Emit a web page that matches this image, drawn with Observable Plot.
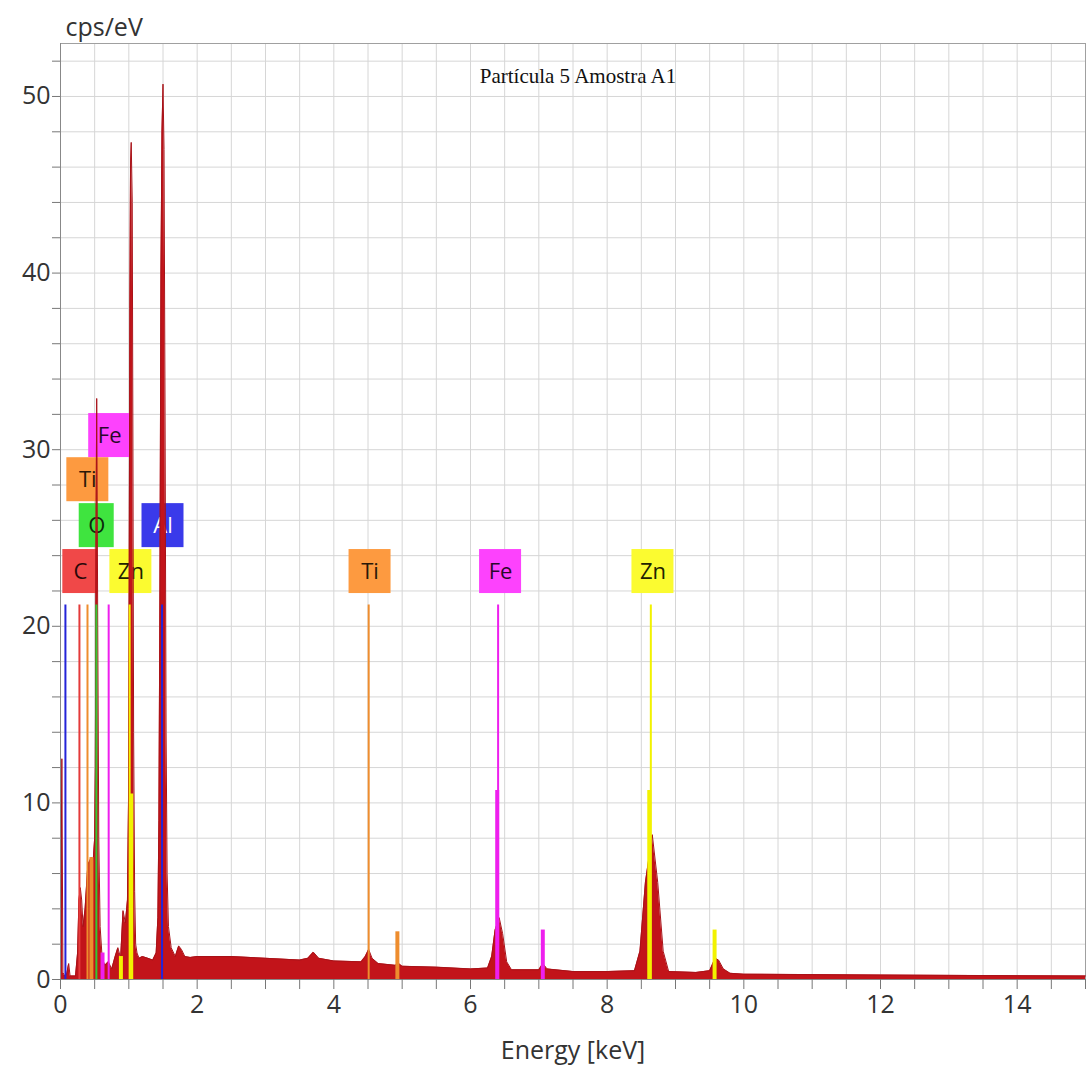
<!DOCTYPE html>
<html><head><meta charset="utf-8">
<script src="https://cdn.jsdelivr.net/npm/d3@7"></script>
<script src="https://cdn.jsdelivr.net/npm/@observablehq/plot@0.6"></script>
<style>body{margin:0;background:#fff}</style>
</head><body><div id="chart"></div>
<script>
// Spectrum (energy keV, cps/eV)
const specEnergy = [0, 0.02, 0.035, 0.06, 0.09, 0.12, 0.14, 0.22, 0.25, 0.27, 0.29, 0.31, 0.33, 0.36, 0.40, 0.45, 0.48, 0.50, 0.51, 0.52, 0.53, 0.545, 0.56, 0.58, 0.61, 0.65, 0.70, 0.75, 0.80, 0.84, 0.88, 0.915, 0.95, 0.98, 0.995, 1.005, 1.015, 1.025, 1.035, 1.05, 1.06, 1.07, 1.085, 1.10, 1.12, 1.15, 1.20, 1.28, 1.35, 1.40, 1.425, 1.44, 1.455, 1.47, 1.485, 1.50, 1.515, 1.53, 1.545, 1.56, 1.58, 1.62, 1.68, 1.73, 1.77, 1.82, 1.9, 2.0, 2.5, 3.0, 3.5, 3.62, 3.7, 3.78, 4.0, 4.4, 4.46, 4.51, 4.56, 4.65, 4.9, 4.95, 5.0, 5.5, 6.0, 6.25, 6.31, 6.36, 6.42, 6.47, 6.53, 6.6, 7.0, 7.06, 7.12, 7.5, 8.0, 8.4, 8.48, 8.56, 8.66, 8.74, 8.82, 8.9, 9.3, 9.5, 9.58, 9.63, 9.7, 9.8, 10, 12, 15];
const specCps    = [0, 12.5, 0.4, 0.2, 0.3, 0.9, 0.2, 0.2, 1.5, 4.5, 5.2, 4.5, 3.0, 4.0, 6.5, 6.9, 6.8, 8.0, 12, 25, 32.9, 20, 8, 3, 1.2, 0.8, 1.0, 0.6, 1.3, 1.8, 1.2, 3.9, 3.2, 4.5, 10, 22, 38, 46, 47.4, 44, 30, 14, 5, 2.0, 1.5, 1.2, 1.3, 1.2, 1.1, 1.5, 3.5, 9, 22, 40, 48, 50.7, 47, 32, 14, 6, 3, 1.8, 1.3, 1.9, 1.7, 1.3, 1.25, 1.3, 1.3, 1.2, 1.1, 1.2, 1.55, 1.2, 1.05, 1.0, 1.3, 1.7, 1.2, 0.9, 0.8, 0.9, 0.75, 0.7, 0.6, 0.65, 1.3, 2.8, 3.5, 2.6, 1.0, 0.55, 0.55, 0.9, 0.6, 0.45, 0.45, 0.5, 1.6, 5.5, 8.2, 5.5, 1.6, 0.45, 0.4, 0.5, 1.2, 1.1, 0.6, 0.35, 0.3, 0.25, 0.2];

// Element lines
const lineElement = ["Al", "C", "Ti", "Ti", "O", "Fe", "Fe", "Zn", "Zn", "Zn", "Al", "Ti", "Ti", "Fe", "Fe", "Fe", "Zn", "Zn", "Zn"];
const lineEnergy  = [0.072, 0.277, 0.395, 0.452, 0.525, 0.615, 0.705, 0.884, 1.012, 1.035, 1.486, 4.51, 4.93, 6.391, 6.404, 7.058, 8.616, 8.639, 9.572];
const lineHeight  = [21.2, 21.2, 21.2, 6.9, 21.2, 1.5, 21.2, 1.3, 21.2, 10.5, 21.2, 21.2, 2.7, 10.7, 21.2, 2.8, 10.7, 21.2, 2.8];
const lineMajor   = [true, true, true, false, true, false, true, false, true, false, true, true, false, false, true, false, false, true, false];

// Element labels
const labelElement = ["C", "Zn", "O", "Al", "Ti", "Fe", "Ti", "Fe", "Zn"];
const labelEnergy  = [0.29, 1.03, 0.53, 1.50, 0.40, 0.72, 4.53, 6.44, 8.67];
const labelLevel   = [23.1, 23.1, 25.7, 25.7, 28.3, 30.8, 23.1, 23.1, 23.1];

const xTickLabels = [0, 2, 4, 6, 8, 10, 12, 14];
const yTickLabels = [0, 10, 20, 30, 40, 50];

const boxColor  = {C: "#f04848", O: "#3fe43f", Al: "#3a3aea", Ti: "#fd9a40", Fe: "#fd42fd", Zn: "#fbfb30"};
const lineColor = {C: "#e43a3a", O: "#33c833", Al: "#2424d8", Ti: "#ee8d2e", Fe: "#ee1fee", Zn: "#f2f200"};
const textColor = {C: "#2a0808", O: "#0c2a0c", Al: "#ffffff", Ti: "#2a1808", Fe: "#2a082a", Zn: "#222200"};

const spectrum = specEnergy.map((e, i) => ({e, c: specCps[i]}));
const lines = lineEnergy.map((e, i) => ({e, h: lineHeight[i], el: lineElement[i], major: lineMajor[i]}));
const labels = labelEnergy.map((e, i) => ({e, y: labelLevel[i], el: labelElement[i]}));

const W = 1087, H = 1073, mL = 60, mR = 2, mT = 43, mB = 94;
const xMax = 15, yMax = 53;
const pxX = (W - mL - mR) / xMax, pxY = (H - mT - mB) / yMax;
const halfW = d => (d.el.length === 1 ? 17.5 : 21) / pxX;
const halfH = 22 / pxY;

const chart = Plot.plot({
  width: W, height: H,
  marginLeft: mL, marginRight: mR, marginTop: mT, marginBottom: mB,
  style: {fontFamily: "'Open Sans', sans-serif", fontSize: "25px", background: "#fff", color: "#333"},
  x: {domain: [0, xMax]},
  y: {domain: [0, yMax]},
  marks: [
    Plot.gridX(d3.range(0.5, xMax, 0.5), {stroke: "#d6d6d6", strokeOpacity: 1}),
    Plot.gridY(d3.range(2, yMax, 2), {stroke: "#d6d6d6", strokeOpacity: 1}),
    Plot.frame({stroke: "#a0a0a0"}),
    Plot.rect(labels, {x1: d => d.e - halfW(d), x2: d => d.e + halfW(d), y1: d => d.y - halfH, y2: d => d.y + halfH, fill: d => boxColor[d.el]}),
    Plot.text(labels, {x: "e", y: "y", text: "el", fill: d => textColor[d.el], fontSize: 22}),
    Plot.areaY(spectrum, {x: "e", y: "c", fill: "#c2141a"}),
    Plot.lineY(spectrum, {x: "e", y: "c", stroke: "#a81218", strokeWidth: 1}),
    Plot.ruleX(lines, {x: "e", y1: 0, y2: "h", stroke: d => lineColor[d.el], strokeWidth: d => d.major ? 2 : 4}),
    Plot.ruleX([0], {stroke: "#888"}),
    Plot.ruleY([0], {stroke: "#888"}),
    Plot.axisY(d3.range(0, yMax, 2), {tickSize: 8, tickPadding: 2, stroke: "#777", fill: "#333", tickFormat: d => yTickLabels.includes(d) ? String(d) : "", label: null}),
    Plot.axisX(d3.range(0, xMax + 0.01, 0.5), {tickSize: 10, tickPadding: 6, stroke: "#777", fill: "#333", tickFormat: d => xTickLabels.includes(d) ? String(d) : "", label: null}),
    Plot.text(["cps/eV"], {frameAnchor: "top-left", dx: 5, dy: -25, fill: "#333", fontSize: 25, textAnchor: "start"}),
    Plot.text(["Energy [keV]"], {frameAnchor: "bottom", dy: 79, fill: "#333", fontSize: 25}),
    Plot.text(["Partícula 5 Amostra A1"], {frameAnchor: "top", dx: 5, dy: 25, fill: "#111", fontSize: 21, fontFamily: "'Liberation Serif', 'Times New Roman', serif"})
  ]
});
document.getElementById("chart").append(chart);
</script>
</body></html>
